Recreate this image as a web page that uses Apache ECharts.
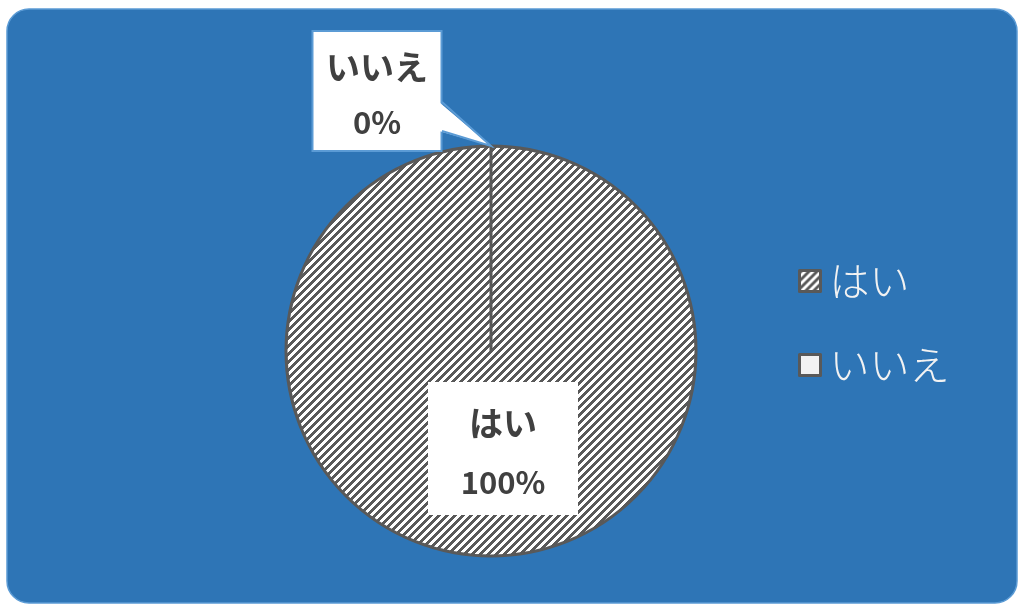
<!DOCTYPE html>
<html>
<head>
<meta charset="utf-8">
<script src="https://cdn.jsdelivr.net/npm/echarts@6/dist/echarts.min.js"></script>
<style>
html,body{margin:0;padding:0;background:#ffffff;}
#chart{width:1018px;height:604px;}
</style>
</head>
<body>
<div id="chart"></div>
<script>
// Data
const categories = ['はい', 'いいえ'];
const values = [100, 0];
const percentLabels = ['100%', '0%'];

// Layout constants
const CX = 491, CY = 351, R = 205;
const FONT = '"Noto Sans CJK JP", "Noto Sans", sans-serif';

// hatched pattern
function makeHatch() {
  const c = document.createElement('canvas');
  const n = 8;
  c.width = n; c.height = n;
  const ctx = c.getContext('2d');
  ctx.fillStyle = '#ffffff';
  ctx.fillRect(0, 0, n, n);
  ctx.fillStyle = '#595959';
  for (let x = 0; x < n; x++) {
    for (let y = 0; y < n; y++) {
      if (((x + y) % n) < 4) ctx.fillRect(x, y, 1, 1);
    }
  }
  return c;
}
const hatch = makeHatch();
const sliceColors = [{ image: hatch, repeat: 'repeat' }, '#F2F2F2'];

const chart = echarts.init(document.getElementById('chart'), null, { renderer: 'canvas' });

const richStyles = {
  n: { fontFamily: FONT, fontWeight: 'bold', fontSize: 34, color: '#404040', lineHeight: 55, align: 'center' },
  p: { fontFamily: FONT, fontWeight: 'bold', fontSize: 31, color: '#404040', lineHeight: 55, align: 'center' }
};

// callout pointer (decoration around label)
const boxRight = 442, tipX = CX, tipY = CY - R;

const option = {
  animation: false,
  backgroundColor: '#ffffff',
  graphic: [
    {
      type: 'rect', z: -10, silent: true,
      shape: { x: 7, y: 9, width: 1010, height: 594, r: 22 },
      style: { fill: '#2E75B6', stroke: '#5B9BD5', lineWidth: 1.5 }
    },
    {
      type: 'polygon', z: 100, silent: true,
      shape: { points: [[boxRight - 3, 102], [boxRight - 3, 131], [tipX, tipY]] },
      style: { fill: '#ffffff' }
    },
    {
      type: 'polyline', z: 101, silent: true,
      shape: { points: [[boxRight, 102], [tipX, tipY], [boxRight, 131]] },
      style: { stroke: '#5B9BD5', lineWidth: 2, fill: null }
    }
  ],
  legend: {
    orient: 'vertical',
    left: 793,
    top: 256,
    itemWidth: 21,
    itemHeight: 21,
    itemGap: 44,
    icon: 'rect',
    itemStyle: { borderColor: '#595959', borderWidth: 3 },
    textStyle: { fontFamily: FONT, fontSize: 40, color: '#F2F2F2', lineHeight: 40, fontWeight: 300, padding: [0, 0, 0, 4] },
    data: categories
  },
  series: [{
    type: 'pie',
    center: [CX, CY],
    radius: [0, R],
    startAngle: 90,
    clockwise: true,
    stillShowZeroSum: true,
    avoidLabelOverlap: false,
    itemStyle: { borderColor: '#595959', borderWidth: 3 },
    emphasis: { disabled: true },
    labelLine: { show: false },
    data: categories.map((name, i) => ({
      name: name,
      value: values[i],
      itemStyle: { color: sliceColors[i] },
      label: i === 0 ? {
        show: true,
        position: 'inside',
        offset: [12, -8],
        backgroundColor: '#ffffff',
        width: 116,
        overflow: 'none',
        padding: [12, 17, 3, 17],
        formatter: '{n|' + name + '}\n{p|' + percentLabels[i] + '}',
        rich: {
          n: Object.assign({}, richStyles.n, { lineHeight: 59 }),
          p: Object.assign({}, richStyles.p, { lineHeight: 59 })
        }
      } : {
        show: true,
        position: 'outside',
        backgroundColor: '#ffffff',
        borderColor: '#5B9BD5',
        borderWidth: 2,
        width: 107,
        overflow: 'none',
        padding: [8, 10, 0, 10],
        formatter: '{n|' + name + '}\n{p|' + percentLabels[i] + '}',
        rich: richStyles
      }
    })),
    labelLayout: function (params) {
      if (params.dataIndex === 1) {
        return { x: 377, y: 91, align: 'center', verticalAlign: 'middle', moveOverlap: null };
      }
      return {};
    }
  }]
};
chart.setOption(option);
</script>
</body>
</html>
